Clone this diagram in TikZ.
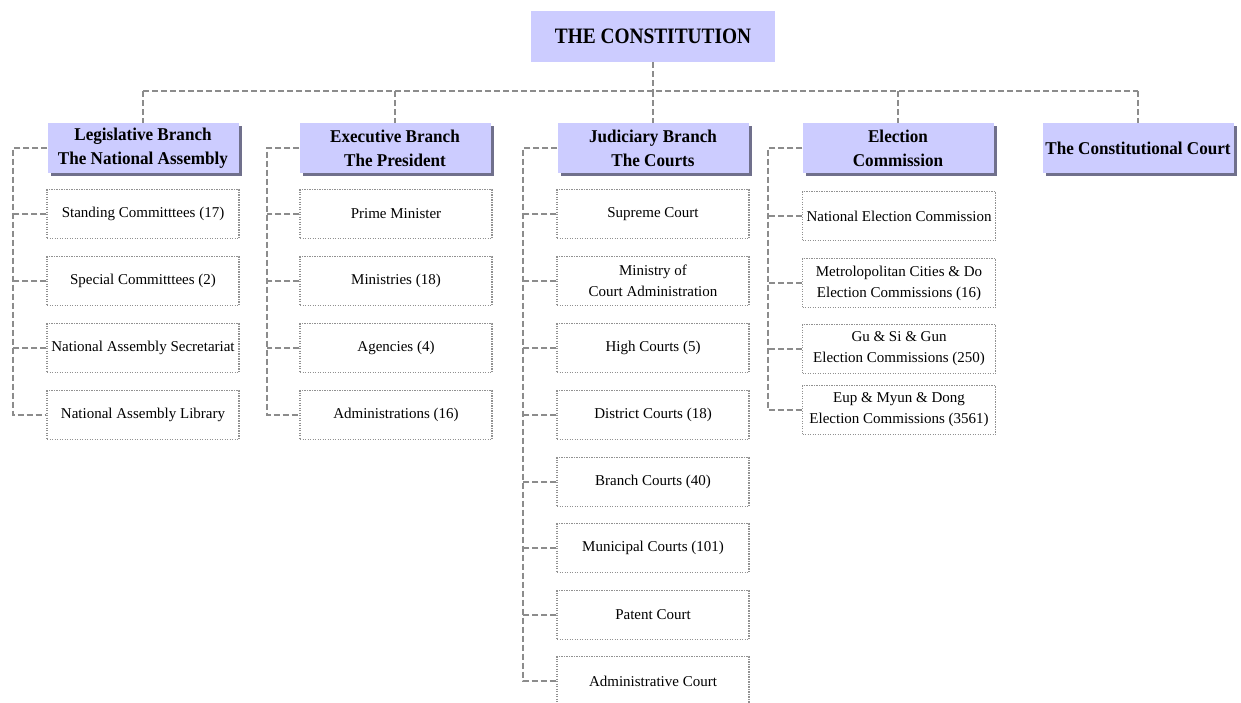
\documentclass[tikz,border=0pt]{standalone}
\usepackage{fontspec}
\setmainfont{Liberation Serif}
\newfontfamily\condfont[FakeStretch=0.88]{Liberation Serif}
\newfontfamily\titfont[FakeStretch=0.95]{Liberation Serif}
\usetikzlibrary{shadows}
\definecolor{lav}{RGB}{204,204,255}
\definecolor{shadowc}{RGB}{112,112,140}
\definecolor{dotc}{RGB}{145,145,145}
\definecolor{linec}{RGB}{140,140,140}
\tikzset{
  topbox/.style={fill=lav, minimum width=244pt, minimum height=51pt, inner sep=0pt,
    font=\condfont\bfseries\fontsize{22}{26}\selectfont},
  titlebox/.style={fill=lav, minimum width=191pt, minimum height=50pt, inner sep=0pt, align=center,
    font=\titfont\bfseries\fontsize{18}{24}\selectfont,
    drop shadow={shadow xshift=3pt, shadow yshift=-3pt, fill=shadowc, opacity=1}},
  childbox/.style={draw=dotc, line width=1.3pt, dash pattern=on 1.3pt off 1.2pt, fill=white,
    minimum width=192pt, minimum height=49pt, inner sep=0pt, align=center,
    font=\fontsize{15}{21}\selectfont},
  conn/.style={draw=linec, line width=2pt, dash pattern=on 6pt off 3pt}
}
\begin{document}
\begin{tikzpicture}[x=1pt,y=-1pt]
\clip (0,0) rectangle (1241,702);
\fill[white] (0,0) rectangle (1241,702);
% constitution
\node[topbox] (con) at (653,36.5) {THE CONSTITUTION};
% branch titles
\node[titlebox] (leg) at (143,148) {Legislative Branch\\The National Assembly};
\node[titlebox] (exe) at (395,148) {Executive Branch\\The President};
\node[titlebox] (jud) at (653,148) {Judiciary Branch\\The Courts};
\node[titlebox] (ele) at (898,148) {Election\\Commission};
\node[titlebox] (cc) at (1138,148) {The Constitutional Court};
% legislative children
\node[childbox] (leg1) at (143,214) {Standing Committtees (17)};
\node[childbox] (leg2) at (143,281) {Special Committtees (2)};
\node[childbox] (leg3) at (143,348) {National Assembly Secretariat};
\node[childbox] (leg4) at (143,415) {National Assembly Library};
% executive children
\node[childbox] (exe1) at (396,214) {Prime Minister};
\node[childbox] (exe2) at (396,281) {Ministries (18)};
\node[childbox] (exe3) at (396,348) {Agencies (4)};
\node[childbox] (exe4) at (396,415) {Administrations (16)};
% judiciary children
\node[childbox] (jud1) at (653,214) {Supreme Court};
\node[childbox] (jud2) at (653,281) {Ministry of\\Court Administration};
\node[childbox] (jud3) at (653,348) {High Courts (5)};
\node[childbox] (jud4) at (653,415) {District Courts (18)};
\node[childbox] (jud5) at (653,482) {Branch Courts (40)};
\node[childbox] (jud6) at (653,548) {Municipal Courts (101)};
\node[childbox] (jud7) at (653,615) {Patent Court};
\node[childbox] (jud8) at (653,681) {Administrative Court};
% election children
\node[childbox, minimum width=193pt] (ele1) at (899,216) {National Election Commission};
\node[childbox, minimum width=193pt] (ele2) at (899,283) {Metrolopolitan Cities \& Do\\Election Commissions (16)};
\node[childbox, minimum width=193pt] (ele3) at (899,349) {Gu \& Si \& Gun\\Election Commissions (250)};
\node[childbox, minimum width=193pt] (ele4) at (899,410) {Eup \& Myun \& Dong\\Election Commissions (3561)};
% top connectors
\coordinate (top) at (653,91);
\draw[conn] (con.south) -- (top);
\draw[conn] (leg.north |- top) -- (cc.north |- top);
\foreach \n in {leg,exe,jud,ele,cc} {\draw[conn] (\n.north |- top) -- (\n.north);}
% brackets
\coordinate (legb) at (13,148);
\coordinate (exeb) at (267,148);
\coordinate (judb) at (523,148);
\coordinate (eleb) at (768,148);
\draw[conn] (leg.west |- legb) -- (legb) |- (leg4.west);
\foreach \k in {1,2,3} {\draw[conn] (leg\k.west) -- (leg\k.west -| legb);}
\draw[conn] (exe.west |- exeb) -- (exeb) |- (exe4.west);
\foreach \k in {1,2,3} {\draw[conn] (exe\k.west) -- (exe\k.west -| exeb);}
\draw[conn] (jud.west |- judb) -- (judb) |- (jud8.west);
\foreach \k in {1,...,7} {\draw[conn] (jud\k.west) -- (jud\k.west -| judb);}
\draw[conn] (ele.west |- eleb) -- (eleb) |- (ele4.west);
\foreach \k in {1,2,3} {\draw[conn] (ele\k.west) -- (ele\k.west -| eleb);}
\end{tikzpicture}
\end{document}
